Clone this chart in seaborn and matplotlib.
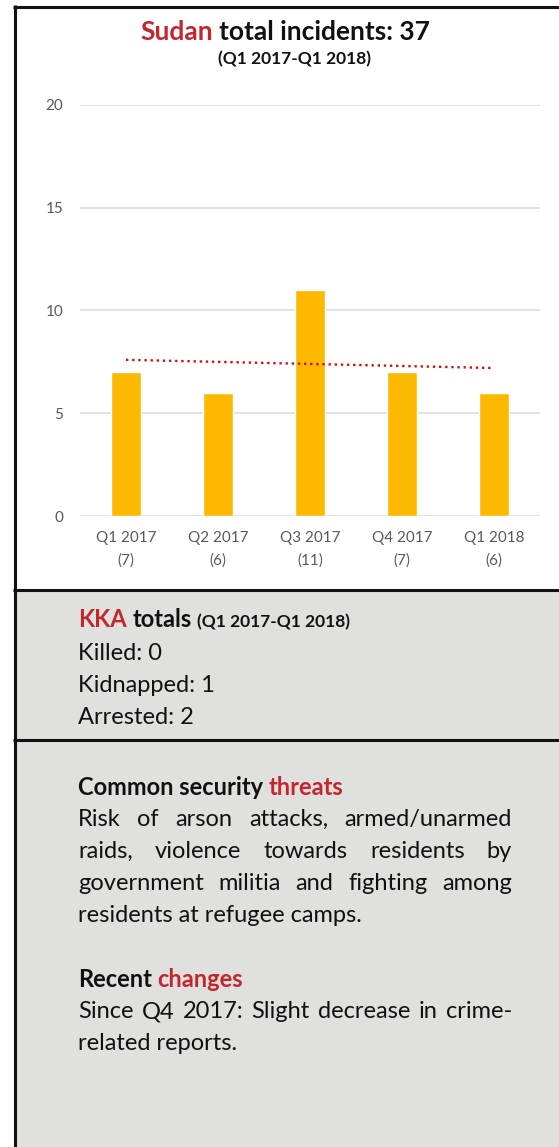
import matplotlib.pyplot as plt
import seaborn as sns
import numpy as np
from matplotlib.patches import Rectangle
from matplotlib.lines import Line2D

# chart data
quarters = ["Q1 2017", "Q2 2017", "Q3 2017", "Q4 2017", "Q1 2018"]
incidents = [7, 6, 11, 7, 6]
y_ticks = [0, 5, 10, 15, 20]

country = "Sudan"
period = "(Q1 2017-Q1 2018)"

# KKA panel
kka_labels = ["Killed", "Kidnapped", "Arrested"]
kka_values = [0, 1, 2]

# text panel
threat_lines = [
    "Risk of arson attacks, armed/unarmed",
    "raids, violence towards residents by",
    "government militia and fighting among",
    "residents at refugee camps.",
]
change_lines = [
    "Since Q4 2017: Slight decrease in crime-",
    "related reports.",
]

RED = "#C2262E"
BAR = "#FCB900"
GREY = "#E0E0DF"
INK = "#111111"
TICK = "#595959"

sns.set_theme(style="white")
plt.rcParams["font.family"] = ["Lato", "DejaVu Sans"]

W, H = 559, 1147
fig = plt.figure(figsize=(W / 100, H / 100), dpi=100, facecolor="white")


def fx(px):
    return px / W


def fy(py):
    return 1 - py / H


# panel backgrounds and frame lines
fig.add_artist(Rectangle((fx(15), fy(740)), fx(W) - fx(15), fy(590) - fy(740),
                         transform=fig.transFigure, color=GREY, zorder=0))
fig.add_artist(Rectangle((fx(15), fy(H)), fx(W) - fx(15), fy(740) - fy(H),
                         transform=fig.transFigure, color=GREY, zorder=0))
for (x0, y0, x1, y1) in [(14.5, 5, 14.5, H), (13, 6.5, W, 6.5),
                         (13, 590, W, 590), (13, 740, W, 740)]:
    fig.add_artist(Line2D([fx(x0), fx(x1)], [fy(y0), fy(y1)], transform=fig.transFigure,
                          color=INK, lw=2.2, solid_capstyle="butt"))

# bar chart
ax = fig.add_axes([fx(80), fy(516), fx(540) - fx(80), (516 - 105) / H])
ax.patch.set_alpha(0)
sns.barplot(x=quarters, y=incidents, color=BAR, saturation=1, width=0.32,
            errorbar=None, ax=ax, zorder=2)
sns.regplot(x=np.arange(len(incidents)), y=incidents, scatter=False, ci=None,
            color="#D01010", ax=ax,
            line_kws=dict(lw=1.7, ls=(0, (1, 1.6)), dash_capstyle="butt", zorder=3))
ax.set_xlim(-0.5, len(quarters) - 0.5)
ax.set_ylim(0, 20)
ax.set_yticks(y_ticks)
ax.set_xticks(range(len(quarters)))
ax.set_xticklabels([f"{q}\n({n})" for q, n in zip(quarters, incidents)], linespacing=1.7)
ax.yaxis.grid(True, color="#D9D9D9", lw=1.1)
ax.set_axisbelow(True)
ax.tick_params(axis="both", length=0, labelsize=11, labelcolor=TICK)
ax.tick_params(axis="y", pad=12)
ax.tick_params(axis="x", pad=11)
ax.set_xlabel("")
ax.set_ylabel("")
sns.despine(ax=ax, left=True, bottom=True)

renderer = fig.canvas.get_renderer()


def text_width(s, **kw):
    t = fig.text(0, 0, s, **kw)
    w = t.get_window_extent(renderer).width
    t.remove()
    return w


def draw_runs(x, y, runs, ha="left"):
    widths = [text_width(s, **kw) for s, kw in runs]
    kw0 = runs[0][1]
    space = text_width("a a", **kw0) - text_width("aa", **kw0)
    total = sum(widths) + space * (len(runs) - 1)
    if ha == "center":
        x = x - total / 2
    for (s, kw), w in zip(runs, widths):
        fig.text(fx(x), fy(y), s, va="baseline", ha="left", **kw)
        x += w + space


def draw_justified(x0, x1, y, line, **kw):
    words = line.split()
    widths = [text_width(w, **kw) for w in words]
    gap = (x1 - x0 - sum(widths)) / (len(words) - 1)
    x = x0
    for w, wd in zip(words, widths):
        fig.text(fx(x), fy(y), w, va="baseline", ha="left", **kw)
        x += wd + gap


# title
title_kw = dict(fontsize=19, fontweight="bold")
draw_runs(285, 40, [(country, dict(color=RED, **title_kw)),
                    (f"total incidents: {sum(incidents)}", dict(color=INK, **title_kw))],
          ha="center")
fig.text(fx(294), fy(64), period, ha="center", va="baseline",
         fontsize=12.5, fontweight="bold", color=INK)

BODY = 17
TX0, TX1 = 78, 512

# KKA panel
draw_runs(TX0, 627, [("KKA", dict(color=RED, fontsize=BODY, fontweight="bold")),
                     ("totals", dict(color=INK, fontsize=BODY, fontweight="bold")),
                     (period, dict(color=INK, fontsize=12.5, fontweight="bold"))])
for i, (lab, val) in enumerate(zip(kka_labels, kka_values)):
    fig.text(fx(TX0), fy(660 + i * 32), f"{lab}: {val}", va="baseline",
             fontsize=BODY, color=INK)

# threats
draw_runs(TX0, 795, [("Common security", dict(color=INK, fontsize=BODY, fontweight="bold")),
                     ("threats", dict(color=RED, fontsize=BODY, fontweight="bold"))])
for i, line in enumerate(threat_lines):
    y = 826 + i * 32
    if i < len(threat_lines) - 1:
        draw_justified(TX0, TX1, y, line, fontsize=BODY, color=INK)
    else:
        fig.text(fx(TX0), fy(y), line, va="baseline", fontsize=BODY, color=INK)

# recent changes
draw_runs(TX0, 987, [("Recent", dict(color=INK, fontsize=BODY, fontweight="bold")),
                     ("changes", dict(color=RED, fontsize=BODY, fontweight="bold"))])
for i, line in enumerate(change_lines):
    y = 1018 + i * 32
    if i < len(change_lines) - 1:
        draw_justified(TX0, TX1, y, line, fontsize=BODY, color=INK)
    else:
        fig.text(fx(TX0), fy(y), line, va="baseline", fontsize=BODY, color=INK)

fig.savefig("out.png", dpi=100, facecolor="white")
